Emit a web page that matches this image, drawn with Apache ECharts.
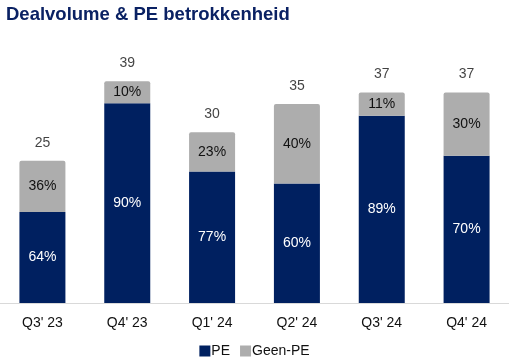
<!DOCTYPE html>
<html><head><meta charset="utf-8">
<script src="https://cdn.jsdelivr.net/npm/echarts@6/dist/echarts.min.js"></script>
<style>html,body{margin:0;padding:0;background:#fff}#c{width:509px;height:361px}</style>
</head><body><div id="c"></div>
<script>
const categories = ["Q3' 23","Q4' 23","Q1' 24","Q2' 24","Q3' 24","Q4' 24"];
const totals = [25, 39, 30, 35, 37, 37];
const pePct = [64, 90, 77, 60, 89, 70];
const geenPct = [36, 10, 23, 40, 11, 30];

const navy = '#002060';
const gray = '#ADADAD';
const chart = echarts.init(document.getElementById('c'));
const peVals = totals.map((t,i)=>({value: t*pePct[i]/100, pct: pePct[i]}));
const geenVals = totals.map((t,i)=>({value: t*geenPct[i]/100, pct: geenPct[i]}));
const font = 'Liberation Sans, Arial, sans-serif';
chart.setOption({
  animation:false,
  title:{text:'Dealvolume & PE betrokkenheid', left:1, top:0,
    textStyle:{fontFamily:font, fontSize:18.5, fontWeight:'bold', color:'#0a2163'}},
  grid:{left:0, right:0, top:47, bottom:58},
  legend:{bottom:-2, left:'center', itemWidth:11, itemHeight:11, itemGap:10, icon:'rect',
    data:['PE','Geen-PE'],
    textStyle:{fontFamily:font, fontSize:14, color:'#111', padding:[0,0,0,-4]}},
  xAxis:{type:'category', data:categories,
    axisLine:{lineStyle:{color:'#D9D9D9', width:1}}, axisTick:{show:false},
    axisLabel:{fontFamily:font, fontSize:14, color:'#111', margin:13}},
  yAxis:{type:'value', min:0, max:45, show:false, splitLine:{show:false}},
  series:[
    {name:'PE', type:'bar', stack:'a', data:peVals, barWidth:46,
      itemStyle:{color:navy},
      label:{show:true, position:'inside', fontFamily:font, fontSize:14, color:'#fff',
        formatter:p=>p.data.pct+'%'}},
    {name:'Geen-PE', type:'bar', stack:'a', data:geenVals, barWidth:46,
      itemStyle:{color:gray, borderRadius:[2,2,0,0]},
      label:{show:true, position:'inside', fontFamily:font, fontSize:14, color:'#111',
        formatter:p=>p.data.pct+'%'}},
    {name:'Totaal', type:'scatter', data:totals, symbolSize:0, silent:true,
      label:{show:true, position:'top', distance:11, fontFamily:font, fontSize:14, color:'#111',
        formatter:p=>String(p.value)}}
  ]
});
</script></body></html>
